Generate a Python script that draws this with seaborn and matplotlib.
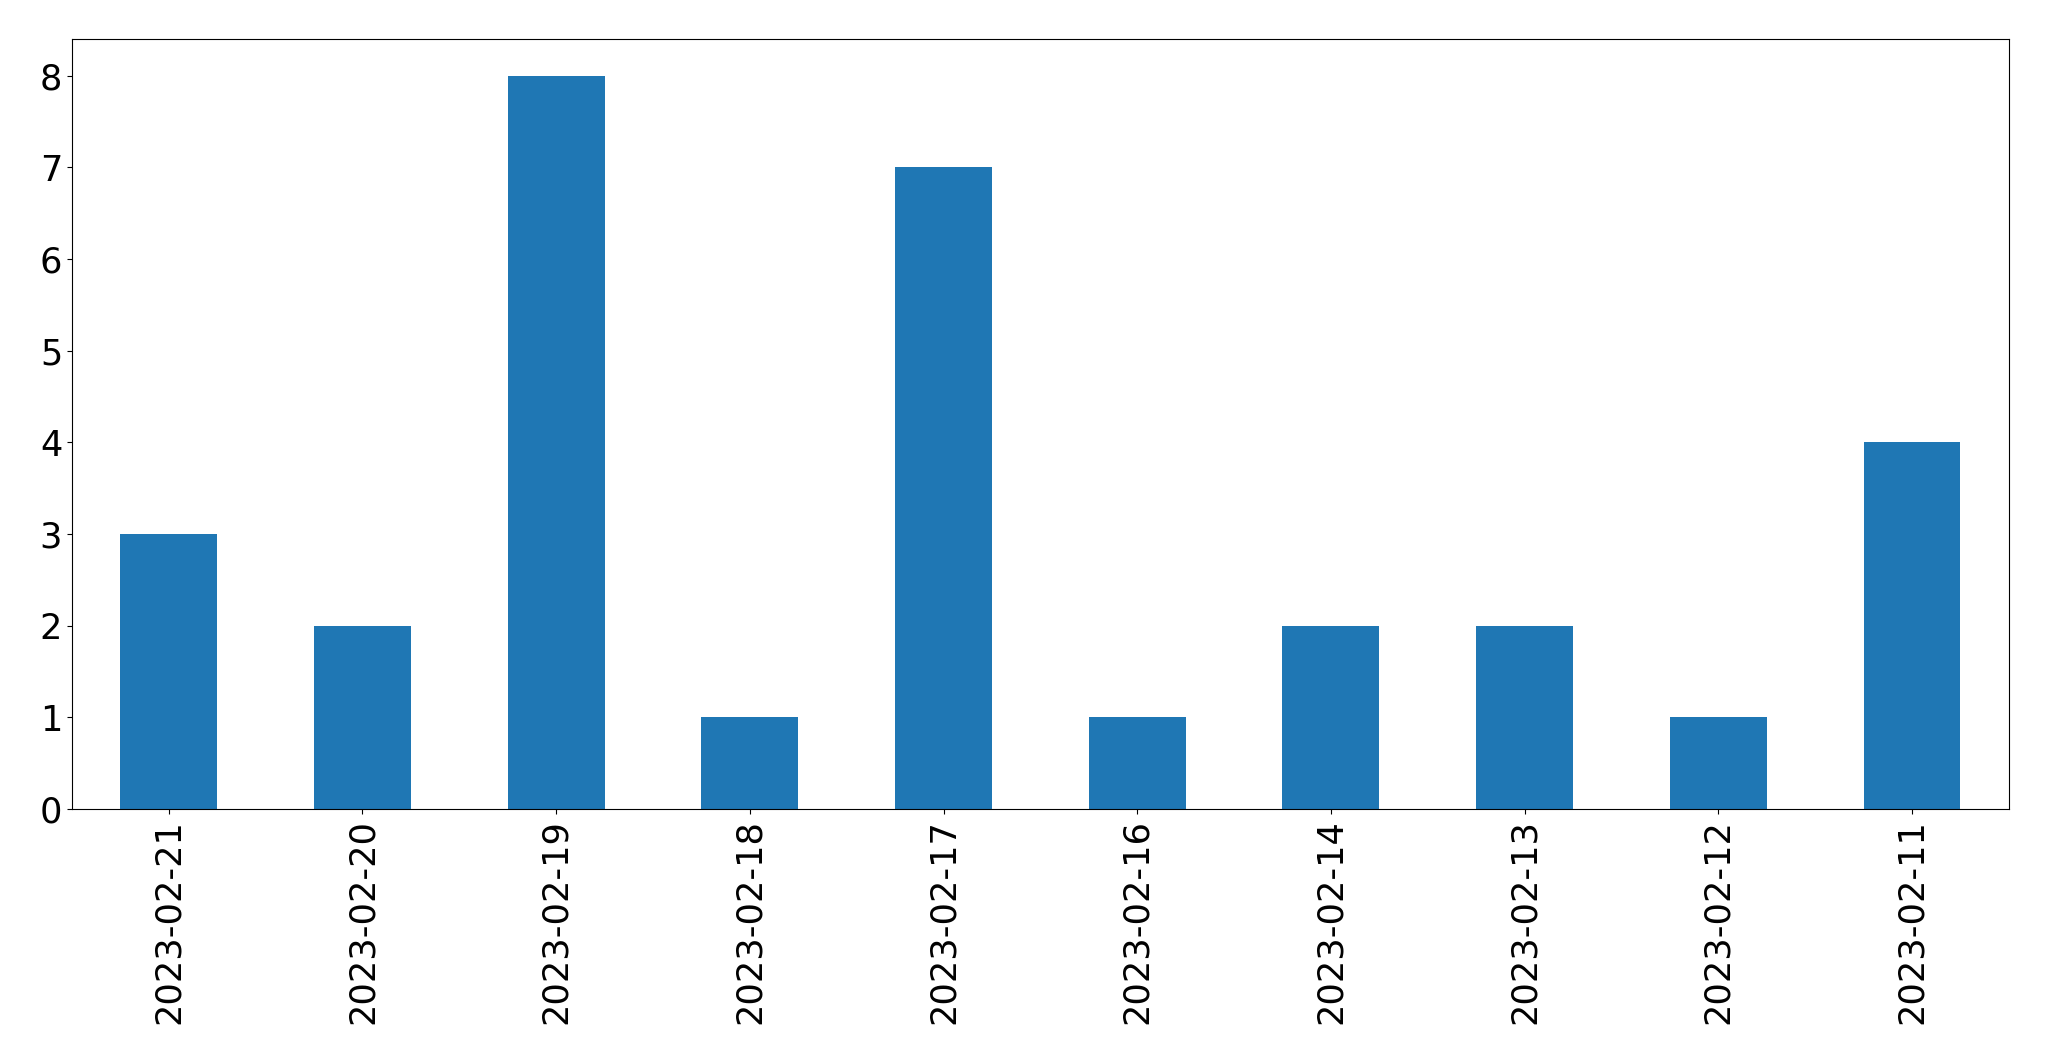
import pandas as pd
import seaborn as sns
import matplotlib
matplotlib.use("Agg")
import matplotlib.pyplot as plt

# --- data ---
dates = ["2023-02-21", "2023-02-20", "2023-02-19", "2023-02-18", "2023-02-17",
         "2023-02-16", "2023-02-14", "2023-02-13", "2023-02-12", "2023-02-11"]
counts = [3, 2, 8, 1, 7, 1, 2, 2, 1, 4]
df = pd.DataFrame({"date": dates, "count": counts})

# --- plot ---
fig = plt.figure(figsize=(20.49, 10.61), dpi=100)
ax = fig.add_axes([0.0351, 0.2375, 0.9453, 0.7257])
sns.barplot(data=df, x="date", y="count", order=dates, color="#1f77b4",
            saturation=1, width=0.5, linewidth=0, ax=ax)
ax.set_xlim(-0.5, len(dates) - 0.5)
ax.set_ylim(0, 8.4)
ax.set_xlabel("")
ax.set_ylabel("")
ax.tick_params(axis="both", labelsize=25.3)
plt.setp(ax.get_xticklabels(), rotation=90)
fig.savefig("out.png", dpi=100)
